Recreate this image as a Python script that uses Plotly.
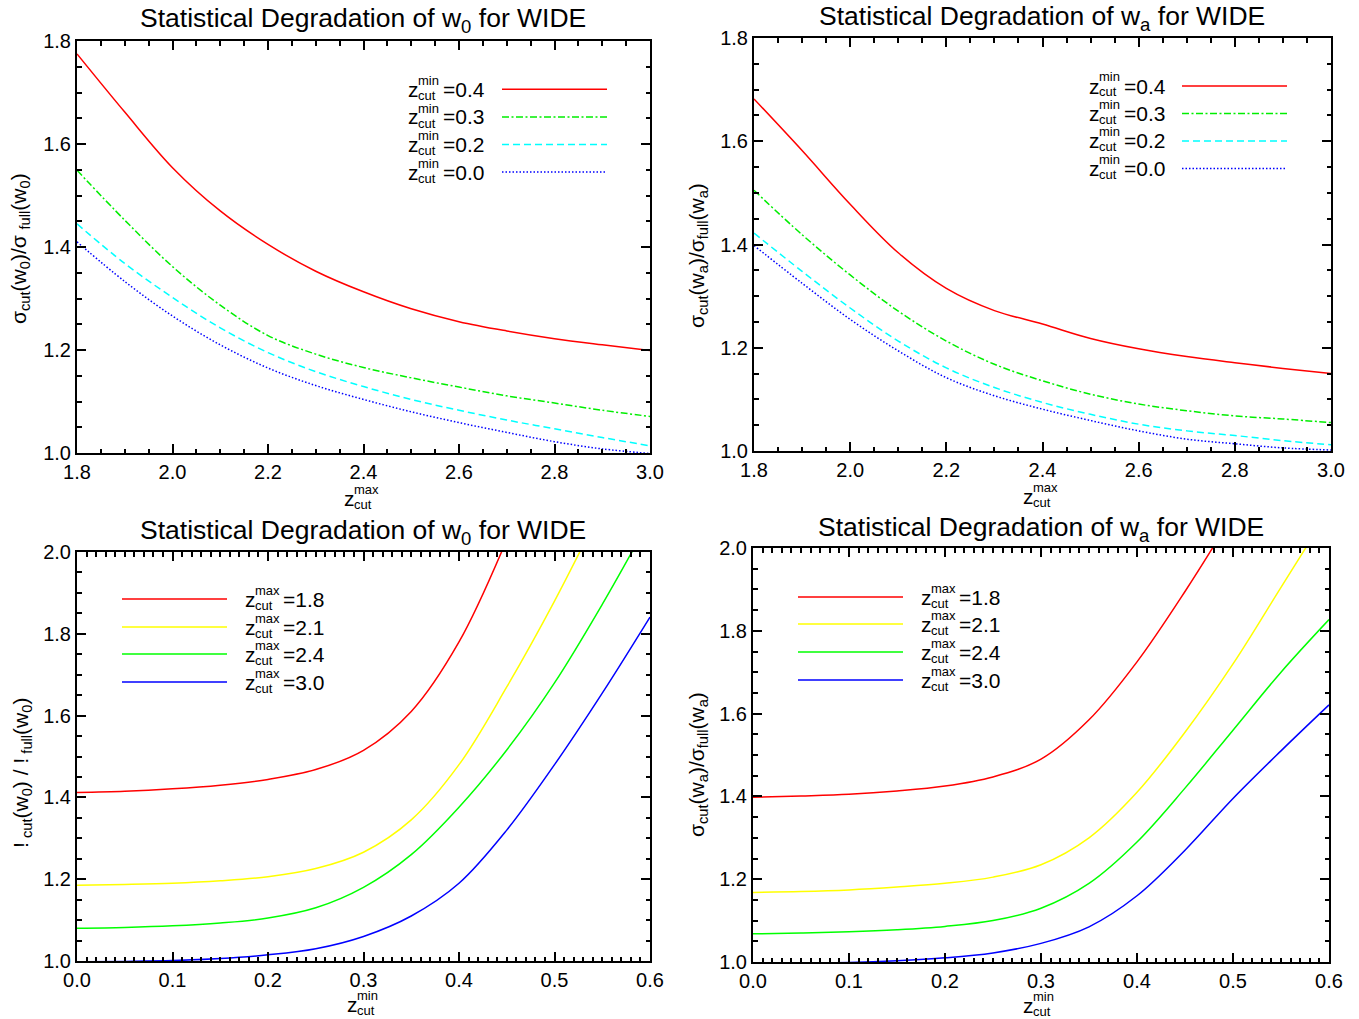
import plotly.graph_objects as go

W, H = 1359, 1019

# ---------------- data ----------------
zmax_grid = [1.8, 1.9, 2.0, 2.1, 2.2, 2.3, 2.4, 2.5, 2.6, 2.7, 2.8, 2.9, 3.0]
zmin_grid = [0.0, 0.05, 0.10, 0.15, 0.20, 0.25, 0.30, 0.35, 0.40, 0.45, 0.50, 0.55, 0.60]

zmin_labels = ["0.4", "0.3", "0.2", "0.0"]
zmax_labels = ["1.8", "2.1", "2.4", "3.0"]

# top-left: w0 vs zmax_cut
w0_zmin04 = [1.775, 1.662, 1.554, 1.470, 1.405, 1.353, 1.313, 1.280, 1.255, 1.237, 1.222, 1.210, 1.199]
w0_zmin03 = [1.549, 1.452, 1.362, 1.287, 1.228, 1.192, 1.166, 1.146, 1.128, 1.111, 1.097, 1.083, 1.071]
w0_zmin02 = [1.445, 1.368, 1.302, 1.243, 1.195, 1.158, 1.129, 1.104, 1.083, 1.064, 1.047, 1.030, 1.014]
w0_zmin00 = [1.410, 1.333, 1.266, 1.210, 1.165, 1.131, 1.104, 1.080, 1.059, 1.040, 1.022, 1.008, 0.999]

# top-right: wa vs zmax_cut
wa_zmin04 = [1.682, 1.582, 1.478, 1.384, 1.315, 1.272, 1.246, 1.218, 1.198, 1.183, 1.171, 1.160, 1.150]
wa_zmin03 = [1.505, 1.419, 1.341, 1.271, 1.213, 1.168, 1.136, 1.110, 1.091, 1.078, 1.068, 1.062, 1.055]
wa_zmin02 = [1.422, 1.348, 1.277, 1.213, 1.161, 1.123, 1.094, 1.071, 1.052, 1.039, 1.030, 1.020, 1.012]
wa_zmin00 = [1.398, 1.325, 1.255, 1.194, 1.142, 1.107, 1.081, 1.059, 1.039, 1.023, 1.014, 1.006, 1.002]

# bottom-left: w0 vs zmin_cut
w0_zmax18 = [1.412, 1.415, 1.421, 1.430, 1.444, 1.468, 1.515, 1.610, 1.780, 2.030]
w0_zmax21 = [1.185, 1.187, 1.190, 1.196, 1.206, 1.226, 1.266, 1.345, 1.480, 1.670, 1.880, 2.110]
w0_zmax24 = [1.080, 1.082, 1.086, 1.093, 1.105, 1.130, 1.180, 1.260, 1.376, 1.516, 1.680, 1.872, 2.080]
w0_zmax30 = [0.998, 0.999, 1.001, 1.006, 1.015, 1.030, 1.060, 1.110, 1.190, 1.320, 1.480, 1.655, 1.841]

# bottom-right: wa vs zmin_cut
wa_zmax18 = [1.398, 1.401, 1.405, 1.413, 1.425, 1.447, 1.490, 1.585, 1.725, 1.895, 2.080]
wa_zmax21 = [1.168, 1.170, 1.174, 1.181, 1.190, 1.205, 1.235, 1.300, 1.410, 1.555, 1.720, 1.905, 2.090]
wa_zmax24 = [1.068, 1.070, 1.073, 1.078, 1.086, 1.100, 1.130, 1.190, 1.290, 1.420, 1.560, 1.700, 1.827]
wa_zmax30 = [0.997, 0.998, 0.999, 1.003, 1.010, 1.022, 1.045, 1.085, 1.160, 1.270, 1.395, 1.510, 1.621]

# ---------------- styles ----------------
FONT = "Liberation Sans"
top_styles = [("#ff0000", "solid"), ("#00ee00", "7px,2.5px,2px,2.5px"),
              ("#00ffff", "7px,4px"), ("#0000ff", "1.5px,2px")]
bot_colors = ["#ff0000", "#ffff00", "#00ff00", "#0000ff"]


def px(x):
    return x / W


def py(y):
    return 1 - y / H


# panel frames in pixels: (x0, x1, ytop, ybottom)
panels = {
    1: (77, 650, 41, 453),
    2: (754, 1331, 38, 451),
    3: (77, 650, 552, 961),
    4: (753, 1329, 548, 962),
}

fig = go.Figure()

series = [
    (1, zmax_grid, [w0_zmin04, w0_zmin03, w0_zmin02, w0_zmin00], "top"),
    (2, zmax_grid, [wa_zmin04, wa_zmin03, wa_zmin02, wa_zmin00], "top"),
    (3, zmin_grid, [w0_zmax18, w0_zmax21, w0_zmax24, w0_zmax30], "bot"),
    (4, zmin_grid, [wa_zmax18, wa_zmax21, wa_zmax24, wa_zmax30], "bot"),
]

for idx, xs, ys_list, kind in series:
    sfx = "" if idx == 1 else str(idx)
    for k, ys in enumerate(ys_list):
        if kind == "top":
            col, dash = top_styles[k]
        else:
            col, dash = bot_colors[k], "solid"
        fig.add_trace(go.Scatter(
            x=xs[:len(ys)], y=ys, mode="lines",
            line=dict(color=col, dash=dash, width=1.5, shape="spline", smoothing=1.0),
            xaxis="x" + sfx, yaxis="y" + sfx, showlegend=False, hoverinfo="skip"))


def axis(domain, rng, dtick, mdtick, anchor):
    return dict(
        domain=domain, range=rng, dtick=dtick, tick0=0, tickformat=".1f",
        ticks="inside", ticklen=9, tickwidth=1.5, tickcolor="black",
        showline=True, linewidth=2, linecolor="black", mirror="allticks",
        showgrid=False, zeroline=False, anchor=anchor, fixedrange=True,
        automargin=False,
        minor=dict(dtick=mdtick, tick0=0, ticks="inside", ticklen=4.5, tickwidth=1.5,
                   tickcolor="black", showgrid=False),
        tickfont=dict(family=FONT, size=20, color="black"),
    )


layout = dict(
    width=W, height=H, margin=dict(l=0, r=0, t=0, b=0, pad=0, autoexpand=False),
    paper_bgcolor="white", plot_bgcolor="white", showlegend=False,
    font=dict(family=FONT, color="black"),
)

for idx in (1, 2, 3, 4):
    x0, x1, yt, yb = panels[idx]
    sfx = "" if idx == 1 else str(idx)
    xd = [px(x0), px(x1)]
    yd = [py(yb), py(yt)]
    if idx in (1, 2):
        layout["xaxis" + sfx] = axis(xd, [1.8, 3.0], 0.2, 0.05, "y" + sfx)
        layout["yaxis" + sfx] = axis(yd, [1.0, 1.8], 0.2, 0.05, "x" + sfx)
    else:
        layout["xaxis" + sfx] = axis(xd, [0.0, 0.6], 0.1, 0.01, "y" + sfx)
        layout["yaxis" + sfx] = axis(yd, [1.0, 2.0], 0.2, 0.05, "x" + sfx)

annotations = []
shapes = []


def ann(text, x, y, size, xanchor="left", yanchor="middle", angle=0):
    annotations.append(dict(
        text=text, x=px(x), y=py(y), xref="paper", yref="paper",
        xanchor=xanchor, yanchor=yanchor, showarrow=False, textangle=angle,
        font=dict(family=FONT, size=size, color="black"), borderpad=0))


def zlab(x, y, sup, tail=None, size=21, small=13):
    ann("z", x, y, size)
    ann(sup, x + 10, y - 9, small)
    ann("cut", x + 10, y + 6, small)
    if tail is not None:
        ann(tail, x + (35 if sup == "min" else 38), y, size)


# titles
ann("Statistical Degradation of w<sub>0</sub> for WIDE", 363, 20, 26.5, "center")
ann("Statistical Degradation of w<sub>a</sub> for WIDE", 1042, 18, 26.5, "center")
ann("Statistical Degradation of w<sub>0</sub> for WIDE", 363, 532, 26.5, "center")
ann("Statistical Degradation of w<sub>a</sub> for WIDE", 1041, 529, 26.5, "center")

# y-axis titles
ann("σ<sub>cut</sub>(w<sub>0</sub>)/σ <sub>full</sub>(w<sub>0</sub>)", 20, 249, 21, "center", angle=-90)
ann("σ<sub>cut</sub>(w<sub>a</sub>)/σ<sub>full</sub>(w<sub>a</sub>)", 698, 256, 21, "center", angle=-90)
ann("!<sub> cut</sub>(w<sub>0</sub>) / !<sub> full</sub>(w<sub>0</sub>)", 22, 773, 21, "center", angle=-90)
ann("σ<sub>cut</sub>(w<sub>a</sub>)/σ<sub>full</sub>(w<sub>a</sub>)", 698, 765, 21, "center", angle=-90)

# x-axis titles
zlab(343, 498, "max")
zlab(1022, 496, "max")
zlab(346, 1004, "min")
zlab(1022, 1005, "min")

# legends (top row: text then line)
top_leg = [(407, 502, 607, [89.3, 117, 144.5, 172]), (1088, 1182, 1287, [86, 113.5, 141, 168.5])]
for zx, lx0, lx1, ys in top_leg:
    for k, yy in enumerate(ys):
        zlab(zx, yy, "min", "=" + zmin_labels[k])
        col, dash = top_styles[k]
        shapes.append(dict(type="line", xref="paper", yref="paper",
                           x0=px(lx0), x1=px(lx1), y0=py(yy), y1=py(yy),
                           line=dict(color=col, dash=dash, width=1.5)))

bot_leg = [(122, 227, 244, [599, 627, 654, 682]), (798, 903, 920, [597, 624, 652, 680])]
for lx0, lx1, zx, ys in bot_leg:
    for k, yy in enumerate(ys):
        zlab(zx, yy, "max", "=" + zmax_labels[k])
        shapes.append(dict(type="line", xref="paper", yref="paper",
                           x0=px(lx0), x1=px(lx1), y0=py(yy), y1=py(yy),
                           line=dict(color=bot_colors[k], width=1.5)))

layout["annotations"] = annotations
layout["shapes"] = shapes
fig.update_layout(**layout)

fig.write_html("out.html", config={"displayModeBar": False},
               post_script="document.body.style.margin='0px';")
